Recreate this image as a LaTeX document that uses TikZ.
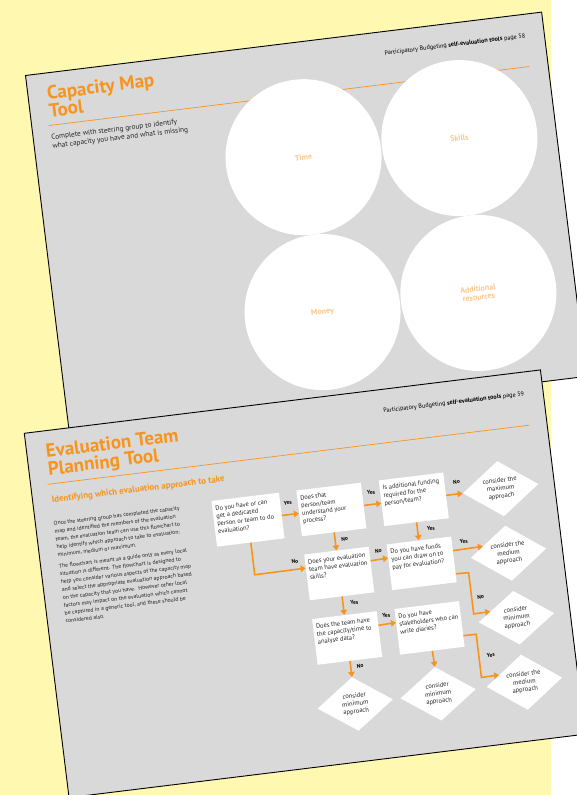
\documentclass[tikz,border=0pt]{standalone}
\usepackage{fontspec}
\setmainfont{PT Sans}
\usetikzlibrary{shapes.geometric,arrows.meta}
\definecolor{paper}{RGB}{255,248,176}
\definecolor{pagegray}{RGB}{217,217,217}
\definecolor{orng}{RGB}{247,148,29}
\definecolor{peach}{RGB}{252,200,140}
\newcommand\qtxt[2][59pt]{\parbox[c][37pt][t]{#1}{\begin{tabular}[t]{@{}l@{}}#2\end{tabular}}}
\tikzset{
  page/.style={fill=pagegray,draw=black,line width=0.9pt},
  hdr/.style={anchor=east,inner sep=0pt,font=\fontsize{6.2}{7}\selectfont},
  rule/.style={draw=orng,line width=0.7pt},
  ttl/.style={anchor=north west,inner sep=0pt,align=left,text=orng,font=\fontsize{19}{17.5}\selectfont\bfseries},
  note/.style={anchor=north west,inner sep=0pt,align=left,text=black!85,font=\fontsize{5.7}{7.9}\selectfont},
  blob/.style={circle,fill=white,minimum size=156pt,inner sep=0pt,align=center,text=peach,font=\fontsize{8}{8.5}\selectfont\bfseries},
  qbox/.style={fill=white,inner xsep=3pt,inner ysep=4.5pt,text=black!85,font=\fontsize{6.4}{7.8}\selectfont},
  ans/.style={diamond,fill=white,minimum width=76pt,minimum height=54pt,inner sep=0pt,align=center,text=black!85,font=\fontsize{6.5}{7.8}\selectfont},
  arr/.style={draw=orng,line width=1.6pt,-{Triangle[length=5pt,width=6.5pt]}},
  yn/.style={inner sep=0pt,font=\fontsize{5.5}{6}\selectfont\bfseries}
}
\begin{document}
\begin{tikzpicture}[x=1pt,y=1pt]
  \useasboundingbox (0,0) rectangle (577,795);
  \fill[paper] (0,0) rectangle (550.5,795);

  \begin{scope}[shift={(25.5,719.5)},rotate=7,transform shape]
    \draw[page] (0,0) rectangle (520,-367);
    \node[hdr] (hdr58) at (501,-22) {Participatory Budgeting \textbf{self-evaluation tools} page 58};
    \draw[rule] (17,-52.5) -- (501,-52.5);
    \node[ttl] (cmt) at (19,-13) {Capacity Map\\Tool};
    \node[note,font=\fontsize{7.3}{8.6}\selectfont] (cmtnote) at (18,-61.5) {Complete with steering group to identify\\what capacity you have and what is missing};
    \node[blob] (time) at (266,-115) {Time};
    \node[blob] (skills) at (423,-115) {Skills};
    \node[blob] (money) at (266,-271) {Money};
    \node[blob] (extra) at (423,-271) {Additional\\resources};
  \end{scope}

  \begin{scope}[shift={(24.3,361.7)},rotate=7,transform shape]
    \draw[page] (0,0) rectangle (520,-367);
    \node[hdr] (hdr59) at (501,-22) {Participatory Budgeting \textbf{self-evaluation tools} page 59};
    \draw[rule] (17,-53.5) -- (502,-53.5);
    \node[ttl] (etpt) at (19,-13.5) {Evaluation Team\\Planning Tool};
    \node[anchor=west,inner sep=0pt,text=orng,font=\fontsize{8.9}{9}\selectfont\bfseries] (sub) at (19,-70) {Identifying which evaluation approach to take};
    \node[note] (intro) at (18,-90.8) {Once the steering group has completed the capacity\\
      map and identified the members of the evaluation\\
      team, the evaluation team can use this flowchart to\\
      help identify which approach to take to evaluation:\\
      minimum, medium or maximum.\\[3.5pt]
      The flowchart is meant as a guide only as every local\\
      situation is different. The flowchart is designed to\\
      help you consider various aspects of the capacity map\\
      and select the appropriate evaluation approach based\\
      on the capacity that you have.\ \ However other local\\
      factors may impact on the evaluation which cannot\\
      be captured in a generic tool, and these should be\\
      considered also.};

    \node[qbox] (q1) at (211.5,-113) {\qtxt[62pt]{Do you have or can\\get a dedicated\\person or team to do\\evaluation?}};
    \node[qbox] (q2) at (295.5,-113) {\qtxt{Does that\\person/team\\understand your\\process?}};
    \node[qbox] (q3) at (378.5,-113) {\qtxt{Is additional funding\\required for the\\person/team?}};
    \node[qbox] (q4) at (295.5,-177.5) {\qtxt{Does your evaluation\\team have evaluation\\skills?}};
    \node[qbox] (q5) at (378.5,-177.5) {\qtxt{Do you have funds\\you can draw on to\\pay for evaluation?}};
    \node[qbox] (q6) at (295.5,-242.5) {\qtxt{Does the team have\\the capacity/time to\\analyse data?}};
    \node[qbox] (q7) at (378.5,-242.5) {\qtxt{Do you have\\stakeholders who can\\write diaries?}};

    \node[ans] (maxi) at (466,-113) {consider the\\maximum\\approach};
    \node[ans] (medA) at (466,-178) {consider the\\medium\\approach};
    \node[ans] (minA) at (466,-243) {consider\\minimum\\approach};
    \node[ans] (minB) at (295.5,-309) {consider\\minimum\\approach};
    \node[ans] (minC) at (379,-309) {consider\\minimum\\approach};
    \node[ans] (medB) at (466,-308) {consider the\\medium\\approach};

    \coordinate (k1) at (211.5,-168.5);
    \coordinate (k2) at (424,-192.5);
    \coordinate (k3) at (424,-234);
    \coordinate (k4) at (424,-254.5);
    \coordinate (k5) at (424,-298);

    \draw[arr] (q1.east) -- (q2.west);
    \draw[arr] (q2.east) -- (q3.west);
    \draw[arr] (q3.east) -- (maxi.west);
    \draw[arr] (q2.south) -- (q4.north);
    \draw[arr] (q3.south) -- (q5.north);
    \draw[arr] (q1.south) -- (k1) -- (q4.164.5);
    \draw[arr] (q4.15.5) -- (q5.164.5);
    \draw[arr] (q5.15.5) -- (medA.158.9);
    \draw[arr] (q5.-24.8) -- (k2) -- (k3) -- (minA.160.4);
    \draw[arr] (q4.south) -- (q6.north);
    \draw[arr] (q6.15.5) -- (q7.164.5);
    \draw[arr] (q6.south) -- (minB.north);
    \draw[arr] (q7.south) -- (minC.north);
    \draw[arr] (q7.-20.3) -- (k4) -- (k5) -- (medB.157.3);

    \node[yn] (y12) at (253,-101) {Yes};
    \node[yn] (y23) at (337,-101) {Yes};
    \node[yn] (n3m) at (423,-101) {No};
    \node[yn] (n24) at (305,-144) {No};
    \node[yn] (y35) at (392,-144) {Yes};
    \node[yn] (n14) at (253,-160) {No};
    \node[yn] (n45) at (337,-160) {No};
    \node[yn] (y5m) at (423,-161) {Yes};
    \node[yn] (n5m) at (433,-218) {No};
    \node[yn] (y46) at (307,-208) {Yes};
    \node[yn] (y67) at (337,-225) {Yes};
    \node[yn] (n6m) at (305,-272) {No};
    \node[yn] (y7m) at (436,-277) {Yes};
  \end{scope}
\end{tikzpicture}
\end{document}
